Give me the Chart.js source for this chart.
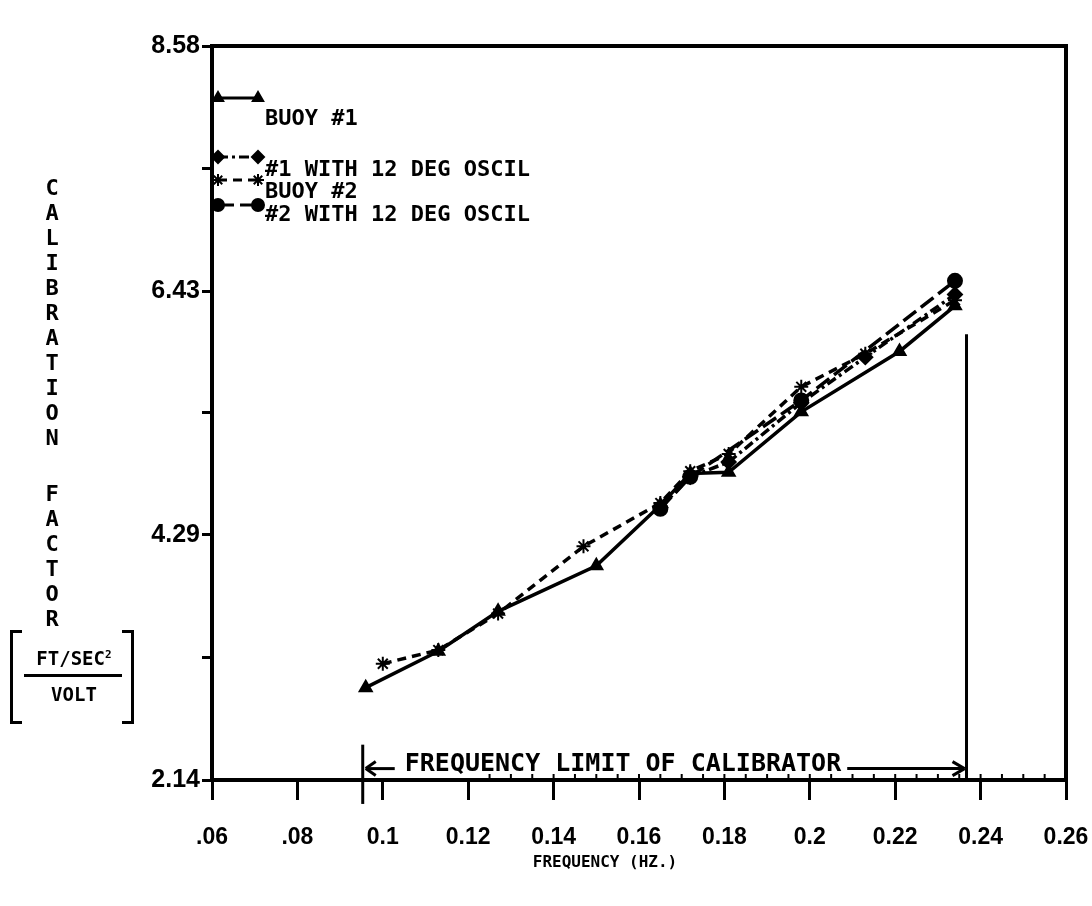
<!DOCTYPE html>
<html>
<head>
<meta charset="utf-8">
<script src="https://cdn.jsdelivr.net/npm/chart.js@4.4.0/dist/chart.umd.min.js"></script>
<style>
  body { margin: 0; background: #fff; }
  #wrap { position: relative; width: 1092px; height: 906px; }
  #myChart { position: absolute; left: 0; top: 0; }
  .ytitle { position: absolute; left: 38px; width: 28px; text-align: center; color: #000;
            font: bold 22px 'DejaVu Sans Mono', monospace; line-height: 25px; }
  #t1 { top: 175px; }
  #t2 { top: 481px; }
  .brk { position: absolute; top: 630px; width: 9px; height: 88px; border: 3px solid #000; }
  #bl { left: 10px; border-right: none; }
  #br { left: 122px; border-left: none; }
  .unit { position: absolute; left: 18px; width: 112px; text-align: center; color: #000;
          font: bold 19px 'DejaVu Sans Mono', monospace; }
  #num { top: 647px; }
  #num sup { font-size: 11px; }
  #bar { position: absolute; left: 24px; top: 674px; width: 98px; border-top: 3px solid #000; }
  #den { top: 683px; }
  #xtitle { position: absolute; left: 520px; top: 852px; width: 170px; text-align: center; color: #000;
            font: bold 16px 'DejaVu Sans Mono', monospace; }
</style>
</head>
<body>
<div id="wrap">
  <canvas id="myChart" width="1092" height="906"></canvas>
  <div class="ytitle" id="t1">C<br>A<br>L<br>I<br>B<br>R<br>A<br>T<br>I<br>O<br>N</div>
  <div class="ytitle" id="t2">F<br>A<br>C<br>T<br>O<br>R</div>
  <div class="brk" id="bl"></div><div class="brk" id="br"></div>
  <div class="unit" id="num">FT/SEC<sup>2</sup></div>
  <div id="bar"></div>
  <div class="unit" id="den">VOLT</div>
  <div id="xtitle">FREQUENCY (HZ.)</div>
</div>
<script>
// axis ticks
const xTicks = [0.06, 0.08, 0.10, 0.12, 0.14, 0.16, 0.18, 0.20, 0.22, 0.24, 0.26];
const xLabels = ['.06', '.08', '0.1', '0.12', '0.14', '0.16', '0.18', '0.2', '0.22', '0.24', '0.26'];
const yTicks = [2.14, 3.215, 4.29, 5.36, 6.43, 7.505, 8.58];
const yLabels = ['2.14', '', '4.29', '', '6.43', '', '8.58'];

// series (frequency in Hz, calibration factor)
const seriesNames = ['BUOY #1', '#1 WITH 12 DEG OSCIL', 'BUOY #2', '#2 WITH 12 DEG OSCIL'];
const buoy1Freq = [0.096, 0.113, 0.127, 0.150, 0.165, 0.172, 0.181, 0.198, 0.221, 0.234];
const buoy1Cal  = [2.95, 3.27, 3.62, 4.02, 4.55, 4.83, 4.84, 5.37, 5.90, 6.30];
const osc1Freq  = [0.165, 0.172, 0.181, 0.198, 0.213, 0.234];
const osc1Cal   = [4.53, 4.80, 4.93, 5.45, 5.85, 6.40];
const buoy2Freq = [0.100, 0.113, 0.127, 0.147, 0.165, 0.172, 0.181, 0.198, 0.213, 0.234];
const buoy2Cal  = [3.16, 3.28, 3.60, 4.19, 4.57, 4.85, 5.00, 5.59, 5.88, 6.35];
const osc2Freq  = [0.165, 0.172, 0.198, 0.234];
const osc2Cal   = [4.52, 4.80, 5.47, 6.52];

// calibrator frequency limit annotation
const limitFreq = [0.0953, 0.2367];
const limitLevel = 2.24;
const limitText = 'FREQUENCY LIMIT OF CALIBRATOR';

const FONT = "'DejaVu Sans Mono', monospace";
const TICKFONT = "'Liberation Sans Narrow', 'Liberation Sans', sans-serif";

function pts(xs, ys) {
    return xs.map((v, i) => ({ x: v, y: ys[i] }));
}

function makeSet(label, xs, ys, style, dash) {
    return {
        label: label,
        data: pts(xs, ys),
        showLine: true,
        borderColor: '#000',
        backgroundColor: '#000',
        borderWidth: 3.5,
        borderDash: dash,
        pointStyle: style,
        pointRadius: 7,
        pointBorderWidth: 2,
        pointBackgroundColor: '#000',
        pointBorderColor: '#000'
    };
}

const datasets = [
    makeSet(seriesNames[0], buoy1Freq, buoy1Cal, 'triangle', []),
    makeSet(seriesNames[1], osc1Freq, osc1Cal, 'rectRot', [10, 4, 3, 4]),
    makeSet(seriesNames[2], buoy2Freq, buoy2Cal, 'star', [9, 6]),
    makeSet(seriesNames[3], osc2Freq, osc2Cal, 'circle', [16, 6])
];

function seg(ctx, x1, y1, x2, y2) {
    ctx.beginPath(); ctx.moveTo(x1, y1); ctx.lineTo(x2, y2); ctx.stroke();
}

// frame, minor ticks, legend and frequency limit
const extras = {
    id: 'extras',
    afterDraw(chart) {
        const { ctx, chartArea: a, scales: { x, y } } = chart;
        ctx.save();
        ctx.strokeStyle = '#000';
        ctx.fillStyle = '#000';
        ctx.setLineDash([]);

        // top and right side of the box
        ctx.lineWidth = 4;
        ctx.beginPath();
        ctx.moveTo(a.left - 2, a.top);
        ctx.lineTo(a.right, a.top);
        ctx.lineTo(a.right, a.bottom);
        ctx.stroke();

        // small inward ticks on the frequency axis
        ctx.lineWidth = 2;
        for (let v = 0.125; v < 0.256; v += 0.005) {
            const px = x.getPixelForValue(v);
            seg(ctx, px, a.bottom, px, a.bottom - 6);
        }

        // legend in the upper left corner
        const rows = [[98, 119], [157, 170], [180, 192], [205, 215]];
        const x0 = a.left + 6, x1 = a.left + 46;
        ctx.font = 'bold 22px ' + FONT;
        ctx.textBaseline = 'middle';
        chart.data.datasets.forEach((ds, i) => {
            const [ly, ty] = rows[i];
            ctx.lineWidth = 3;
            ctx.setLineDash(ds.borderDash);
            seg(ctx, x0, ly, x1, ly);
            ctx.setLineDash([]);
            ctx.lineWidth = 2;
            [x0, x1].forEach(px => Chart.helpers.drawPoint(ctx,
                { pointStyle: ds.pointStyle, radius: 6, borderWidth: 2, rotation: 0 }, px, ly));
            ctx.fillText(ds.label, x1 + 7, ty);
        });

        // frequency limit of calibrator
        const xl = x.getPixelForValue(limitFreq[0]);
        const xr = x.getPixelForValue(limitFreq[1]);
        const ya = y.getPixelForValue(limitLevel);
        ctx.lineWidth = 3;
        seg(ctx, xl, y.getPixelForValue(2.45), xl, y.getPixelForValue(1.93));
        seg(ctx, xr, y.getPixelForValue(6.05), xr, y.getPixelForValue(2.14));
        ctx.font = 'bold 25px ' + FONT;
        ctx.textBaseline = 'middle';
        const tx = xl + 42;
        ctx.fillText(limitText, tx, ya - 4);
        const tw = ctx.measureText(limitText).width;
        seg(ctx, xl + 3, ya, xl + 32, ya);
        seg(ctx, xl + 3, ya, xl + 13, ya - 7);
        seg(ctx, xl + 3, ya, xl + 13, ya + 7);
        seg(ctx, tx + tw + 6, ya, xr - 2, ya);
        seg(ctx, xr - 2, ya, xr - 14, ya - 7);
        seg(ctx, xr - 2, ya, xr - 14, ya + 7);
        ctx.restore();
    }
};

new Chart(document.getElementById('myChart'), {
    type: 'scatter',
    data: { datasets: datasets },
    options: {
        responsive: false,
        animation: false,
        layout: { padding: { top: 46, right: 26, left: 0, bottom: 0 } },
        plugins: { legend: { display: false }, tooltip: { enabled: false } },
        scales: {
            x: {
                type: 'linear',
                min: 0.06,
                max: 0.26,
                afterBuildTicks: s => { s.ticks = xTicks.map(v => ({ value: v })); },
                afterFit: s => { s.height = 126; s.paddingLeft = 0; s.paddingRight = 0; },
                ticks: {
                    callback: (v, i) => xLabels[i],
                    color: '#000',
                    font: { family: TICKFONT, size: 23, weight: 'bold' },
                    padding: 24,
                    maxRotation: 0,
                    autoSkip: false
                },
                grid: { drawOnChartArea: false, tickLength: 20, lineWidth: 3, color: '#000' },
                border: { width: 4, color: '#000' }
            },
            y: {
                min: 2.14,
                max: 8.58,
                afterBuildTicks: s => { s.ticks = yTicks.map(v => ({ value: v })); },
                afterFit: s => { s.width = 212; },
                ticks: {
                    callback: (v, i) => yLabels[i],
                    color: '#000',
                    font: { family: TICKFONT, size: 25, weight: 'bold' },
                    padding: 2,
                    autoSkip: false
                },
                grid: { drawOnChartArea: false, tickLength: 10, lineWidth: 3, color: '#000' },
                border: { width: 4, color: '#000' }
            }
        }
    },
    plugins: [extras]
});
</script>
</body>
</html>
